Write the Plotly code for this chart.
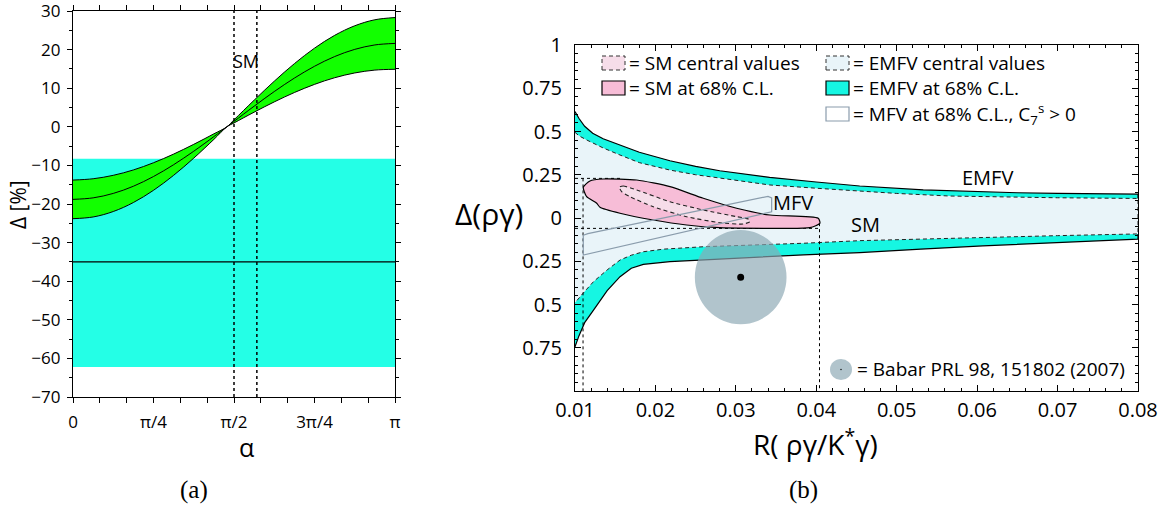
import math
import plotly.graph_objects as go

PI = math.pi
W, H = 1161, 510

# ---------------- panel (a) data ----------------
alpha_over_pi = [0, 0.0625, 0.125, 0.1875, 0.25, 0.3125, 0.375, 0.4375, 0.478,
                 0.5, 0.5625, 0.625, 0.6875, 0.75, 0.8125, 0.875, 0.9375, 1.0]
delta_central = [-18.8, -18.41, -17.26, -15.40, -12.88, -9.82, -6.33, -2.54, 0.0,
                 1.40, 5.34, 9.13, 12.62, 15.68, 18.20, 20.06, 21.21, 21.60]
delta_upper = [-13.8, -13.46, -12.57, -11.18, -9.31, -7.07, -4.54, -1.82, 0.0,
               1.80, 6.89, 11.81, 16.36, 20.37, 23.69, 26.17, 27.73, 28.30]
delta_lower = [-23.8, -23.36, -21.95, -19.62, -16.45, -12.57, -8.12, -3.26, 0.0,
               1.00, 3.79, 6.45, 8.88, 10.99, 12.71, 13.95, 14.69, 14.90]
exp_band = [-62.2, -8.3]      # experimental band (cyan)
exp_central = -35.0
sm_alpha_over_pi = [0.5, 0.571]  # dotted SM lines
a_xtick_over_pi = [i / 12 for i in range(13)]
a_xtick_text = ['0', '', '', 'π/4', '', '', 'π/2', '', '', '3π/4', '', '', 'π']

# ---------------- panel (b) data ----------------
emfv_up_x = [0.0100, 0.0105, 0.0112, 0.0122, 0.0135, 0.0155, 0.0180, 0.0218, 0.0250,
             0.0280, 0.0342, 0.0400, 0.0454, 0.0533, 0.0600, 0.0650, 0.0700, 0.0800]
emfv_up_y = [0.615, 0.575, 0.530, 0.490, 0.458, 0.425, 0.380, 0.331, 0.298,
             0.273, 0.235, 0.208, 0.185, 0.162, 0.152, 0.146, 0.142, 0.138]
emfv_lo_x = [0.0100, 0.0105, 0.0112, 0.0123, 0.0140, 0.0156, 0.0170, 0.0185, 0.0218,
             0.0260, 0.0301, 0.0384, 0.0454, 0.0530, 0.0607, 0.0700, 0.0800]
emfv_lo_y = [-0.745, -0.680, -0.605, -0.532, -0.420, -0.339, -0.290, -0.268, -0.252,
             -0.241, -0.232, -0.213, -0.200, -0.180, -0.161, -0.140, -0.122]
cen_up_x = [0.0100, 0.0105, 0.0115, 0.0123, 0.0135, 0.0156, 0.0180, 0.0218, 0.0250,
            0.0280, 0.0342, 0.0400, 0.0454, 0.0500, 0.0566, 0.0650, 0.0700, 0.0800]
cen_up_y = [0.495, 0.475, 0.450, 0.432, 0.405, 0.364, 0.320, 0.277, 0.250,
            0.231, 0.191, 0.172, 0.156, 0.142, 0.127, 0.120, 0.117, 0.113]
cen_lo_x = [0.0100, 0.0110, 0.0123, 0.0140, 0.0156, 0.0170, 0.0185, 0.0210, 0.0260,
            0.0320, 0.0384, 0.0454, 0.0530, 0.0607, 0.0700, 0.0800]
cen_lo_y = [-0.490, -0.435, -0.368, -0.300, -0.243, -0.215, -0.195, -0.180, -0.166,
            -0.155, -0.146, -0.131, -0.122, -0.112, -0.102, -0.092]

sm68_x = [0.01103, 0.01186, 0.01352, 0.01767, 0.02181, 0.02595, 0.03010, 0.03424, 0.04024,
          0.04045, 0.03921, 0.03424, 0.02802, 0.02388, 0.01973, 0.01559, 0.01311, 0.01270,
          0.01145, 0.01103]
sm68_y = [0.1775, 0.214, 0.2254, 0.2197, 0.181, 0.1139, 0.0561, 0.0173, -0.0017,
          -0.0306, -0.0561, -0.0595, -0.0561, -0.0405, -0.0116, 0.0272, 0.0618, 0.085,
          0.1231, 0.1775]
smc_x = [0.01551, 0.01600, 0.01767, 0.02181, 0.02595, 0.03010, 0.03154, 0.03175, 0.03092,
         0.02802, 0.02388, 0.01973, 0.01684, 0.01580, 0.01551]
smc_y = [0.1775, 0.185, 0.1618, 0.0942, 0.0462, 0.0075, -0.0058, -0.0214, -0.0347,
         -0.0272, 0.0075, 0.0653, 0.1231, 0.152, 0.1775]
mfv_x = [0.01103, 0.01160, 0.03400, 0.03445, 0.03445, 0.01103, 0.01103]
mfv_y = [-0.100, -0.090, 0.125, 0.116, 0.036, -0.214, -0.100]

sm_box_x = [0.0110, 0.0404]      # dotted SM window
sm_box_y = [-0.060, 0.229]

babar_R, babar_dR = 0.0306, 0.0057
babar_D, babar_dD = -0.342, 0.272

b_ytick_vals = [1, 0.75, 0.5, 0.25, 0, -0.25, -0.5, -0.75, -1]
b_ytick_text = ['1', '0.75', '0.5', '0.25', '0', '0.25', '0.5', '0.75', '']

CYAN_A = '#24ffe6'
CYAN_B = '#16f6e2'
GREEN = '#12ff00'
LBLUE = '#e9f4f9'
PINK = '#f7bdd7'
LPINK = '#f6dde9'
MFVC = '#8a9cac'
ELL = 'rgba(140,168,180,0.68)'
FONT = 'Open Sans'
DASH = '4px,3px'

def px(x):
    return x / W

def py(y):
    return 1 - y / H

fig = go.Figure()
alpha = [a * PI for a in alpha_over_pi]

# ---- panel (a)
fig.add_trace(go.Scatter(x=[0, PI, PI, 0, 0], y=[exp_band[0], exp_band[0], exp_band[1], exp_band[1], exp_band[0]],
                         fill='toself', fillcolor=CYAN_A, line=dict(width=0), mode='lines',
                         xaxis='x', yaxis='y', hoverinfo='skip'))
fig.add_trace(go.Scatter(x=[0, PI], y=[exp_central, exp_central], mode='lines',
                         line=dict(color='black', width=1.3), xaxis='x', yaxis='y'))
fig.add_trace(go.Scatter(x=alpha, y=delta_lower, mode='lines', line=dict(color='black', width=1, shape='spline'),
                         xaxis='x', yaxis='y'))
fig.add_trace(go.Scatter(x=alpha, y=delta_upper, mode='lines', fill='tonexty', fillcolor=GREEN,
                         line=dict(color='black', width=1, shape='spline'), xaxis='x', yaxis='y'))
fig.add_trace(go.Scatter(x=alpha, y=delta_central, mode='lines', line=dict(color='black', width=1, shape='spline'),
                         xaxis='x', yaxis='y'))
for a in sm_alpha_over_pi:
    fig.add_trace(go.Scatter(x=[a * PI, a * PI], y=[-70, 30], mode='lines',
                             line=dict(color='black', width=1.5, dash='dot'), xaxis='x', yaxis='y'))

# ---- panel (b)
fig.add_trace(go.Scatter(x=emfv_up_x + emfv_lo_x[::-1], y=emfv_up_y + emfv_lo_y[::-1], fill='toself',
                         fillcolor=CYAN_B, mode='lines', line=dict(color='black', width=1.2),
                         xaxis='x2', yaxis='y2', hoverinfo='skip'))
fig.add_trace(go.Scatter(x=cen_up_x + cen_lo_x[::-1], y=cen_up_y + cen_lo_y[::-1], fill='toself',
                         fillcolor=LBLUE, mode='lines', line=dict(color='#222222', width=1, dash=DASH),
                         xaxis='x2', yaxis='y2', hoverinfo='skip'))
dot = dict(color='black', width=1, dash='dot')
fig.add_trace(go.Scatter(x=[0.01, 0.0156], y=[sm_box_y[1], sm_box_y[1]], mode='lines', line=dot, xaxis='x2', yaxis='y2'))
fig.add_trace(go.Scatter(x=[0.01, sm_box_x[1]], y=[sm_box_y[0], sm_box_y[0]], mode='lines', line=dot, xaxis='x2', yaxis='y2'))
fig.add_trace(go.Scatter(x=[sm_box_x[0], sm_box_x[0]], y=[sm_box_y[1], -1], mode='lines', line=dot, xaxis='x2', yaxis='y2'))
fig.add_trace(go.Scatter(x=[sm_box_x[1], sm_box_x[1]], y=[-0.03, -1], mode='lines', line=dot, xaxis='x2', yaxis='y2'))
fig.add_trace(go.Scatter(x=sm68_x, y=sm68_y, fill='toself', fillcolor=PINK, mode='lines',
                         line=dict(color='black', width=1.2, shape='spline', smoothing=0.6), xaxis='x2', yaxis='y2'))
fig.add_trace(go.Scatter(x=smc_x, y=smc_y, fill='toself', fillcolor=LPINK, mode='lines',
                         line=dict(color='#222222', width=1.1, dash=DASH, shape='spline', smoothing=0.6),
                         xaxis='x2', yaxis='y2'))
fig.add_trace(go.Scatter(x=mfv_x, y=mfv_y, mode='lines', line=dict(color=MFVC, width=1.2),
                         xaxis='x2', yaxis='y2'))

shapes = [
    dict(type='circle', xref='x2', yref='y2', x0=babar_R - babar_dR, x1=babar_R + babar_dR,
         y0=babar_D - babar_dD, y1=babar_D + babar_dD, fillcolor=ELL,
         line=dict(width=0), layer='above'),
    dict(type='circle', xref='x2', yref='y2', xsizemode='pixel', ysizemode='pixel',
         xanchor=babar_R, yanchor=babar_D, x0=-3.5, x1=3.5, y0=-3.5, y1=3.5,
         fillcolor='black', line=dict(width=0), layer='above'),
    # legend swatches
    dict(type='rect', xref='paper', yref='paper', x0=px(602), x1=px(625), y0=py(70), y1=py(56),
         fillcolor=LPINK, line=dict(color='#333', width=1, dash=DASH)),
    dict(type='rect', xref='paper', yref='paper', x0=px(602), x1=px(625), y0=py(95), y1=py(81),
         fillcolor=PINK, line=dict(color='black', width=1.2)),
    dict(type='rect', xref='paper', yref='paper', x0=px(826), x1=px(849), y0=py(70), y1=py(56),
         fillcolor=LBLUE, line=dict(color='#333', width=1, dash=DASH)),
    dict(type='rect', xref='paper', yref='paper', x0=px(826), x1=px(849), y0=py(95), y1=py(81),
         fillcolor=CYAN_B, line=dict(color='black', width=1.2)),
    dict(type='rect', xref='paper', yref='paper', x0=px(826), x1=px(849), y0=py(121), y1=py(107),
         fillcolor='white', line=dict(color=MFVC, width=1.2)),
    dict(type='circle', xref='paper', yref='paper', x0=px(830), x1=px(852), y0=py(380), y1=py(359),
         fillcolor=ELL, line=dict(width=0)),
    dict(type='circle', xref='paper', yref='paper', x0=px(840.3), x1=px(841.7), y0=py(370.2), y1=py(368.8),
         fillcolor='black', line=dict(width=0)),
]

ann = []
def A(text, x, y, size, xanchor='center', family=FONT, angle=0, ref='paper'):
    d = dict(text=text, showarrow=False, font=dict(family=family, size=size, color='black'),
             xanchor=xanchor, yanchor='middle', textangle=angle, borderpad=0)
    if ref == 'paper':
        d.update(xref='paper', yref='paper', x=px(x), y=py(y))
    else:
        d.update(xref=ref[0], yref=ref[1], x=x, y=y)
    ann.append(d)

A('SM', 0.537 * PI, 17.0, 18, ref=('x', 'y'))
A('Δ [%]', 18, 205, 21, angle=-90)
A('α', 246, 447, 25)
A('(a)', 194, 490, 25, family='Liberation Serif')
A('(b)', 803, 490, 25, family='Liberation Serif')
A('Δ(ργ)', 489, 213, 30)
A('R( ργ/K<sup>*</sup>γ)', 815, 442, 28)
A('EMFV', 0.0613, 0.237, 20, ref=('x2', 'y2'))
A('SM', 0.0461, -0.035, 20, ref=('x2', 'y2'))
A('MFV', 0.0371, 0.087, 20, ref=('x2', 'y2'))
A('= SM central values', 628, 63, 19, xanchor='left')
A('= SM at 68% C.L.', 628, 88, 19, xanchor='left')
A('= EMFV central values', 852, 63, 19, xanchor='left')
A('= EMFV at 68% C.L.', 852, 88, 19, xanchor='left')
A('= MFV at 68% C.L., C<sub>7</sub><sup>s</sup> > 0', 852, 114, 19, xanchor='left')
A('= Babar PRL 98, 151802 (2007)', 856, 369, 19, xanchor='left')

axis_common = dict(showline=True, linecolor='black', linewidth=1.3, mirror='ticks', showgrid=False,
                   zeroline=False, tickcolor='black', automargin=False, ticklabeloverflow='allow')

fig.update_layout(
    width=W, height=H, margin=dict(l=0, r=0, t=0, b=0, autoexpand=False),
    paper_bgcolor='white', plot_bgcolor='white', showlegend=False,
    font=dict(family=FONT, color='black'),
    xaxis=dict(domain=[73 / W, 395 / W], range=[0, PI], anchor='y',
               tickmode='array', tickvals=[t * PI for t in a_xtick_over_pi], ticktext=a_xtick_text,
               ticks='outside', ticklen=5, tickwidth=1.2, tickfont=dict(size=17), ticklabelstandoff=4,
               **axis_common),
    yaxis=dict(domain=[1 - 397 / H, 1 - 11 / H], range=[-70, 30], anchor='x', dtick=10,
               ticks='outside', ticklen=5, tickwidth=1.2, tickfont=dict(size=17), ticklabelstandoff=3,
               minor=dict(dtick=5, ticks='outside', ticklen=3, tickcolor='black'),
               **axis_common),
    xaxis2=dict(domain=[575 / W, 1138 / W], range=[0.01, 0.08], anchor='y2',
                tickmode='array', tickvals=[0.01, 0.02, 0.03, 0.04, 0.05, 0.06, 0.07, 0.08],
                ticktext=['0.01', '0.02', '0.03', '0.04', '0.05', '0.06', '0.07', '0.08'],
                ticks='inside', ticklen=6, tickwidth=1, tickfont=dict(size=20), ticklabelstandoff=1,
                minor=dict(dtick=0.002, tick0=0.01, ticks='inside', ticklen=3, tickcolor='black'),
                **axis_common),
    yaxis2=dict(domain=[1 - 391 / H, 1 - 45 / H], range=[-1, 1], anchor='x2',
                tickmode='array', tickvals=b_ytick_vals, ticktext=b_ytick_text,
                ticks='inside', ticklen=6, tickwidth=1, tickfont=dict(size=20), ticklabelstandoff=8,
                minor=dict(dtick=0.05, tick0=0, ticks='inside', ticklen=3, tickcolor='black'),
                **axis_common),
    shapes=shapes, annotations=ann,
)

fig.write_html('out.html', config={'displayModeBar': False},
               post_script="document.body.style.margin='0px';document.body.style.padding='0px';"
                           "document.body.style.overflow='hidden';")
